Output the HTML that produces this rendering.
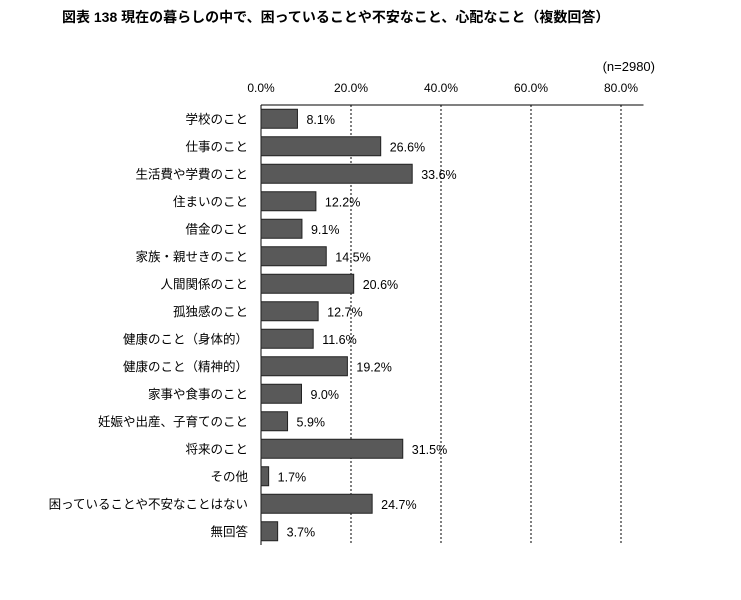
<!DOCTYPE html>
<html><head><meta charset="utf-8"><style>
body{margin:0;background:#fff;font-family:"Liberation Sans","Noto Sans CJK JP",sans-serif;}
</style></head><body>
<svg width="741" height="595" xmlns="http://www.w3.org/2000/svg" font-family="Liberation Sans, Noto Sans CJK JP, sans-serif">
<text x="62" y="22" font-size="14" font-weight="bold" fill="#000">図表 138 現在の暮らしの中で、困っていることや不安なこと、心配なこと（複数回答）</text>
<text x="655" y="71" font-size="13" text-anchor="end" fill="#000">(n=2980)</text>
<g id="plotgroup"></g>
</svg>
<script>
const categories=["学校のこと","仕事のこと","生活費や学費のこと","住まいのこと","借金のこと","家族・親せきのこと","人間関係のこと","孤独感のこと","健康のこと（身体的）","健康のこと（精神的）","家事や食事のこと","妊娠や出産、子育てのこと","将来のこと","その他","困っていることや不安なことはない","無回答"];
const values=[8.1,26.6,33.6,12.2,9.1,14.5,20.6,12.7,11.6,19.2,9.0,5.9,31.5,1.7,24.7,3.7];
const ticks=[0,20,40,60,80];
const NS="http://www.w3.org/2000/svg";
const grp=document.getElementById('plotgroup');
const xs=v=>261+v*4.5;
const topY=105, step=27.5, bottomY=topY+step*categories.length;
const ys=i=>topY+i*step;
function mk(t,a){const e=document.createElementNS(NS,t);for(const k in a)e.setAttribute(k,a[k]);grp.appendChild(e);return e;}
ticks.forEach(t=>{
 if(t>0){const l=mk('line',{x1:xs(t),x2:xs(t),y1:topY,y2:bottomY,stroke:'#000','stroke-dasharray':'2,2','stroke-width':1});
 
 }
 const tx=mk('text',{x:xs(t),y:topY-13,'font-size':12,'text-anchor':'middle'});tx.textContent=t.toFixed(1)+'%';
 
 
});
const ax=mk('line',{x1:261,x2:xs(85),y1:topY,y2:topY,stroke:'#000'});


const ay=mk('line',{x1:261,x2:261,y1:topY,y2:bottomY,stroke:'#000'});


categories.forEach((c,i)=>{
 const cy=ys(i)+step/2;
 const r=mk('rect',{x:261,y:cy-9.5,width:xs(values[i])-261,height:19,fill:'#595959',stroke:'#222','stroke-width':1});
 
 
 const l=mk('text',{x:248,y:cy+4.5,'font-size':12.5,'text-anchor':'end'});l.textContent=c;
 
 
 const v=mk('text',{x:xs(values[i])+9,y:cy+5,'font-size':12.5});v.textContent=values[i].toFixed(1)+'%';
 
 
});
</script>
</body></html>
